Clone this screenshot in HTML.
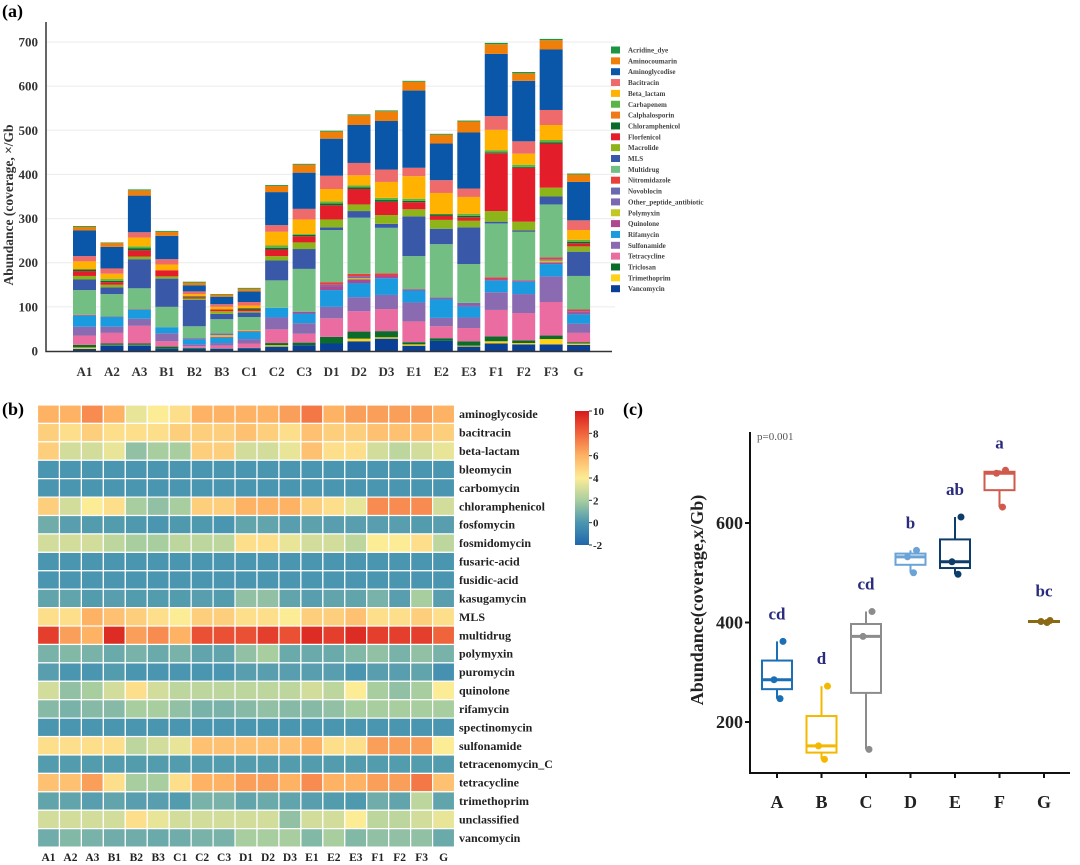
<!DOCTYPE html>
<html><head><meta charset="utf-8">
<style>
html,body{margin:0;padding:0;background:#fff;}
svg{display:block;font-family:"Liberation Serif",serif;}
</style></head>
<body>
<svg id="fig" width="1080" height="865" viewBox="0 0 1080 865" xmlns="http://www.w3.org/2000/svg">
<rect width="1080" height="865" fill="#fff"/>
<text x="2" y="17" font-size="18" font-weight="bold">(a)</text>
<text x="2" y="415" font-size="18" font-weight="bold">(b)</text>
<text x="623" y="415" font-size="18" font-weight="bold">(c)</text>
<g id="pa"></g>
<g id="pb"></g>
<g id="pc"></g>
</svg>
<script>
// ---------- Panel (a) data ----------
const samples = ["A1","A2","A3","B1","B2","B3","C1","C2","C3","D1","D2","D3","E1","E2","E3","F1","F2","F3","G"];
const yTicksA = [0,100,200,300,400,500,600,700];
const legendNames = ["Acridine_dye","Aminocoumarin","Aminoglycodise","Bacitracin","Beta_lactam","Carbapenem","Calphalosporin","Chloramphenicol","Florfenicol","Macrolide","MLS","Multidrug","Nitromidazole","Novoblocin","Other_peptide_antibiotic","Polymyxin","Quinolone","Rifamycin","Sulfonamide","Tetracycline","Triclosan","Trimethoprim","Vancomycin"];
const legendColors = ["#1a9641","#f07f0a","#0a56a8","#ef6b6b","#ffb300","#5ab544","#f07818","#0b6a2a","#e31e2a","#8db51a","#3a58a8","#73bf83","#e8403a","#6a6ab0","#7a68b5","#c3c820","#b0488f","#1a9be0","#8a6ab0","#ea6ca0","#0b6b2b","#ffd21a","#0a3f96"];
const vAcr   = [2,1,2,2,2,1,2,2,2,2,2,2,2,2,2,3,3,3,2];
const vAmc   = [8,9,12,9,6,5,6,14,18,16,22,22,20,20,25,22,17,21,17];
const vAmg   = [58,49,83,53,14,17,24,75,82,84,86,110,175,83,127,141,137,137,87];
const vBact  = [12,12,12,12,6,6,8,15,24,30,28,28,19,29,19,31,28,34,22];
const vBeta  = [18,12,20,13,5,6,6,31,33,28,23,36,51,48,38,46,25,34,22];
const vCarb  = [0,4,4,0,0,0,0,5,2,5,4,5,5,0,5,5,5,5,5];
const vCalph = [0,0,0,0,0,0,0,0,0,0,0,0,0,0,0,0,0,0,0];
const vChlor = [4,3,5,0,2,0,3,4,3,4,4,4,3,4,3,2,2,3,3];
const vFlor  = [11,6,14,14,3,4,4,15,14,32,35,30,16,9,8,131,122,100,7];
const vMacro = [8,6,6,5,3,6,3,10,15,18,15,20,16,20,15,24,20,20,12];
const vMLS   = [24,15,66,64,60,12,10,45,45,6,15,9,90,35,83,4,3,18,55];
const vMulti = [56,51,48,46,27,32,30,62,97,118,127,103,75,121,88,122,110,120,76];
const vNitro = [0,0,0,0,0,0,0,0,0,6,6,5,0,0,0,4,0,4,4];
const vNovo  = [0,0,0,0,0,0,0,0,0,0,0,0,0,0,0,0,0,0,0];
const vOther = [0,0,0,0,0,4,0,0,0,4,4,0,0,0,5,0,0,3,4];
const vPoly  = [0,0,0,0,0,4,2,0,0,0,3,0,0,0,0,0,0,4,0];
const vQuin  = [2,1,1,0,2,2,2,0,4,8,8,6,3,3,3,3,3,4,3];
const vRif   = [25,22,20,14,12,12,16,22,22,38,32,38,27,43,25,27,28,28,21];
const vSul   = [20,14,16,18,4,6,10,27,24,26,32,32,43,19,24,40,43,58,21];
const vTet   = [21,24,40,12,4,6,10,31,20,42,46,50,47,27,30,60,62,76,21];
const vTric  = [6,3,3,5,2,1,1,5,6,15,16,14,5,6,10,11,6,8,3];
const vTrim  = [3,1,1,0,0,0,0,3,0,0,6,3,3,0,2,5,3,12,3];
const vVanco = [5,13,13,5,5,5,6,10,13,17,22,28,12,23,10,17,15,15,14];
// legend order (top->bottom); stacking is reverse (Vancomycin at bottom)
const seriesA = [vAcr,vAmc,vAmg,vBact,vBeta,vCarb,vCalph,vChlor,vFlor,vMacro,vMLS,vMulti,vNitro,vNovo,vOther,vPoly,vQuin,vRif,vSul,vTet,vTric,vTrim,vVanco];

// ---------- Panel (b) data ----------
const hmRows = ["aminoglycoside","bacitracin","beta-lactam","bleomycin","carbomycin","chloramphenicol","fosfomycin","fosmidomycin","fusaric-acid","fusidic-acid","kasugamycin","MLS","multidrug","polymyxin","puromycin","quinolone","rifamycin","spectinomycin","sulfonamide","tetracenomycin_C","tetracycline","trimethoprim","unclassified","vancomycin"];
const hmAminoglycoside = [6,6,7,6,3.5,4,4.5,6,6,6,6,6.5,7.5,6,6.5,6.5,6.5,6.5,6];
const hmBacitracin = [5,4.5,5,4.5,4.5,4.5,5,5,5,5.5,5,4.5,5.5,5,5,5.5,5.5,5.5,5];
const hmBetaLactam = [5,3,3,3.5,1.5,2,2,5,5,3,3,3.5,5.5,4.5,4.5,3,2.5,3,3.5];
const hmBleomycin = [0,0,0,0,0,0,0,0,0,0,0,0,0,0,0,0,0,0,0];
const hmCarbomycin = [0,0,0,0,0,0,0,0,0,0,0,0,0,0,0,0,0,0,0];
const hmChloramphenicol = [5,3,4,4.5,2,1.5,2,5,5,6,6,6,5,4.5,3.5,7,7,7,3];
const hmFosfomycin = [0.8,0.3,0.2,0.2,0.1,0,0.1,0.1,0,0.5,0.5,0.3,0.4,0.3,0.3,0.3,0.3,0.2,0.3];
const hmFosmidomycin = [3,3,3,2.5,2,2,2.5,2.5,2.5,4.5,4.5,3.5,3,3,2.5,4,4,4.5,2.5];
const hmFusaric = [0,0,0,0,0,0,0,0,0,0,0,0,0,0,0,0,0,0,0];
const hmFusidic = [0,0,0,0,0,0,0,0,0,0,0,0,0,0,0,0,0,0,0];
const hmKasugamycin = [0.5,0.5,0.2,0.3,0.2,0.2,0.2,0.3,0.2,1.5,1.5,0.5,0.3,0.5,0.5,1,0.3,2,0.3];
const hmMLS = [4.5,4.5,6,5.5,5,4.5,4,5,5,4.5,4.5,4,5,5,5.5,4.5,4.5,5,4.5];
const hmMultidrug = [9,6.5,6,9.5,6.5,7,6,8.5,8.5,8.5,9,8.5,9.5,9,9.5,9,9,9,8];
const hmPolymyxin = [1,1.2,1,0.7,1,0.7,1,0.5,0.5,1.5,2,0.7,0.7,0.7,1.2,1.5,1,1.5,1];
const hmPuromycin = [0.3,0,0,0.2,0,0,0,0,0,0.3,0.3,0.3,0.3,0.3,0,0.3,0.3,0.5,-0.2];
const hmQuinolone = [3,1.5,2,3,4.5,3,2.5,2.5,2.5,2.5,2.5,2.5,3,2.5,4,2,1.5,2,4];
const hmRifamycin = [1.3,1,1.3,1.3,2,2,1.5,1,1,1.3,1.5,1.3,1.3,1.5,2,2,2,2,2];
const hmSpectinomycin = [0,0,0,0,0,0,0,0,0,0,0,0,0,0,0,0,0,0,0];
const hmSulfonamide = [4.5,4.5,4.5,4.5,2.5,3,3.5,5.5,5.5,5.5,5.5,5.5,6,4.5,4.5,6.5,6.5,6.5,4];
const hmTetracenomycin = [0.2,0.2,0.2,0.2,0.2,0.2,0.2,0.2,0.2,0.2,0.2,0.2,0.2,0.2,0.2,0.2,0.2,0.2,0.2];
const hmTetracycline = [5.5,5.5,6.5,4.5,2,2,4.5,6,6,6.5,6.5,6,7,6,6,6.5,6.5,7.5,5.5];
const hmTrimethoprim = [0.5,0.5,0.3,0.5,0.3,0.3,0.2,1,1,0.5,0.7,0.5,0.3,0.2,0.1,0.8,0.5,2.5,0.5];
const hmUnclassified = [3,3,3,3,4.5,3.5,3,3,3,3,3,1.5,3,3,4,2.5,2.5,3,3.5];
const hmVancomycin = [0.8,1.2,1,0.8,0.8,0.7,0.8,1,1,2,2,2,1.2,2,1.2,1.5,1.5,1.5,0.7];
const hmValues = [hmAminoglycoside,hmBacitracin,hmBetaLactam,hmBleomycin,hmCarbomycin,hmChloramphenicol,hmFosfomycin,hmFosmidomycin,hmFusaric,hmFusidic,hmKasugamycin,hmMLS,hmMultidrug,hmPolymyxin,hmPuromycin,hmQuinolone,hmRifamycin,hmSpectinomycin,hmSulfonamide,hmTetracenomycin,hmTetracycline,hmTrimethoprim,hmUnclassified,hmVancomycin];
const cbTicks = [10,8,6,4,2,0,-2];

// ---------- Panel (c) data ----------
const groups = ["A","B","C","D","E","F","G"];
const ptsA = [247,285,362];
const ptsB = [125,152,272];
const ptsC = [145,372,422];
const ptsD = [500,532,545];
const ptsE = [497,522,612];
const ptsF = [632,700,706];
const ptsG = [400,402,404];
const groupPoints = [ptsA,ptsB,ptsC,ptsD,ptsE,ptsF,ptsG];
const sigLetters = ["cd","d","cd","b","ab","a","bc"];
const yTicksC = [200,400,600];

const NS="http://www.w3.org/2000/svg";
function mk(parent,tag,attrs,text){const e=document.createElementNS(NS,tag);for(const k in attrs)e.setAttribute(k,attrs[k]);if(text!==undefined)e.textContent=text;parent.appendChild(e);return e;}

// ===== Panel A =====
(function(){
  const g=document.getElementById('pa');
  const y0=351, pxPer=309/700;
  const yA=v=>y0-v*pxPer;
  const x0=84.5, step=27.45, bw=23;
  const xA=i=>x0+i*step;
  yTicksA.forEach(t=>{
    if(t>0){const l=mk(g,'line',{x1:47,x2:615,y1:yA(t),y2:yA(t),stroke:'#ebebeb','stroke-width':1});
    
    }
    const tx=mk(g,'text',{x:38,y:yA(t)+4.5,'text-anchor':'end','font-size':13,'font-weight':'bold',fill:'#333'},t);
    
    
  });
  samples.forEach((s,i)=>{
    let cum=0;
    for(let k=seriesA.length-1;k>=0;k--){
      const v=seriesA[k][i]; if(v<=0) continue;
      const r=mk(g,'rect',{x:xA(i)-bw/2,y:yA(cum+v),width:bw,height:v*pxPer,fill:legendColors[k]});
      
      
      cum+=v;
    }
    const tx=mk(g,'text',{x:xA(i),y:376,'text-anchor':'middle','font-size':13,'font-weight':'bold',fill:'#333'},s);
    
    
  });
  const ax=mk(g,'path',{d:'M46,22 V351.5 H612',stroke:'#333','stroke-width':1.5,fill:'none'});
  
  
  const tt=mk(g,'text',{transform:'translate(13,205) rotate(-90)','text-anchor':'middle','font-size':13.5,'font-weight':'bold',fill:'#333'},'Abundance (coverage, \u00d7/Gb');
  
  
  legendNames.forEach((n,k)=>{
    const y=50+k*10.85;
    const r=mk(g,'rect',{x:611,y:y-3.5,width:9,height:7,fill:legendColors[k]});
    
    
    const t=mk(g,'text',{x:628,y:y+2.5,'font-size':7,'font-weight':'bold',fill:'#444'},n);
    
    
  });
})();

// ===== Panel B =====
function cmap(v){
  const stops=[[-2,[33,102,172]],[0,[74,150,176]],[2,[168,206,160]],[4,[253,236,150]],[6,[253,178,100]],[8,[240,100,60]],[10,[215,25,28]]];
  if(v<=stops[0][0])return 'rgb('+stops[0][1]+')';
  for(let i=1;i<stops.length;i++){if(v<=stops[i][0]){const a=stops[i-1],b=stops[i];const t=(v-a[0])/(b[0]-a[0]);return 'rgb('+a[1].map((c,j)=>Math.round(c+(b[1][j]-c)*t)).join(',')+')';}}
  return 'rgb('+stops[stops.length-1][1]+')';
}
(function(){
  const g=document.getElementById('pb');
  const x0=37.5, cw=21.95, y0=405, ch=18.42;
  hmRows.forEach((rn,r)=>{
    samples.forEach((s,c)=>{
      const e=mk(g,'rect',{x:x0+c*cw,y:y0+r*ch,width:cw,height:ch,fill:cmap(hmValues[r][c]),stroke:'#fff','stroke-width':1.2});
      
      
    });
    const t=mk(g,'text',{x:459,y:y0+r*ch+ch/2+4,'font-size':12,'font-weight':'bold',fill:'#222'},rn);
    
    
  });
  samples.forEach((s,c)=>{
    const t=mk(g,'text',{x:x0+c*cw+cw/2,y:861,'text-anchor':'middle','font-size':11.5,'font-weight':'bold',fill:'#222'},s);
    
    
  });
  const defs=mk(g,'defs',{});
  const lg=mk(defs,'linearGradient',{id:'cbg',x1:0,y1:1,x2:0,y2:0});
  for(let i=0;i<=12;i++){const v=-2+i;mk(lg,'stop',{offset:(i/12),'stop-color':cmap(v)});}
  const cbTop=411, cbBot=545, cbY=v=>cbBot-(v+2)/12*(cbBot-cbTop);
  const cb=mk(g,'rect',{x:575,y:cbTop,width:14,height:cbBot-cbTop,fill:'url(#cbg)'});
  
  
  cbTicks.forEach(t=>{
    const l=mk(g,'line',{x1:589,x2:592,y1:cbY(t),y2:cbY(t),stroke:'#333','stroke-width':1});
    
    
    const tx=mk(g,'text',{x:593,y:cbY(t)+4,'font-size':11,'font-weight':'bold',fill:'#222'},t);
    
    
  });
})();

// ===== Panel C =====
(function(){
  const g=document.getElementById('pc');
  const yC=v=>722-(v-200)*0.4975;
  const xC=i=>777+i*44.5;
  const colors=["#1a6fb5","#f5b800","#8c8c8c","#6ba3d6","#0d3d6b","#d05a4c","#8b6914"];
  const jit=[3,-3,6];
  const ax=mk(g,'path',{d:'M750,432 V773 H1070',stroke:'#111','stroke-width':2,fill:'none'});
  
  
  yTicksC.forEach(t=>{
    const l=mk(g,'line',{x1:745,x2:750,y1:yC(t),y2:yC(t),stroke:'#111','stroke-width':2});
    
    
    const tx=mk(g,'text',{x:743,y:yC(t)+6,'text-anchor':'end','font-size':18,'font-weight':'bold',fill:'#222'},t);
    
    
  });
  const tt=mk(g,'text',{transform:'translate(703,600) rotate(-90)','text-anchor':'middle','font-size':18,'font-weight':'bold',fill:'#222'},'Abundance(coverage,x/Gb)');
  
  
  const p=mk(g,'text',{x:757,y:440,'font-size':11,fill:'#555'},'p=0.001');
  
  
  groups.forEach((gn,i)=>{
    const pts=groupPoints[i].slice().sort((a,b)=>a-b);
    const n=pts.length;
    const q=f=>{const h=(n-1)*f,lo=Math.floor(h),hi=Math.ceil(h);return pts[lo]+(pts[hi]-pts[lo])*(h-lo);};
    const q1=q(0.25),md=q(0.5),q3=q(0.75),iqr=q3-q1;
    const lo=Math.min(...pts.filter(v=>v>=q1-1.5*iqr)),hi=Math.max(...pts.filter(v=>v<=q3+1.5*iqr));
    const x=xC(i),c=colors[i],bw=30;
    const w=mk(g,'line',{x1:x,x2:x,y1:yC(hi),y2:yC(lo),stroke:c,'stroke-width':2});
    
    
    const b=mk(g,'rect',{x:x-bw/2,y:yC(q3),width:bw,height:Math.max(1,yC(q1)-yC(q3)),fill:'#fff',stroke:c,'stroke-width':2});
    
    
    const m=mk(g,'line',{x1:x-bw/2,x2:x+bw/2,y1:yC(md),y2:yC(md),stroke:c,'stroke-width':3});
    
    
    groupPoints[i].forEach((v,k)=>{
      const d=mk(g,'circle',{cx:x+jit[k],cy:yC(v),r:3.5,fill:c});
      
      
    });
    const tk=mk(g,'line',{x1:x,x2:x,y1:773,y2:778,stroke:'#111','stroke-width':2});
    
    
    const tx=mk(g,'text',{x:x,y:808,'text-anchor':'middle','font-size':18,'font-weight':'bold',fill:'#222'},gn);
    
    
    const lt=mk(g,'text',{x:x,y:yC(Math.max(...pts))-22+ (i===6?-2:0),'text-anchor':'middle','font-size':17,'font-weight':'bold',fill:'#2b2b7d'},sigLetters[i]);
    
    
  });
})();
</script>
</body></html>
